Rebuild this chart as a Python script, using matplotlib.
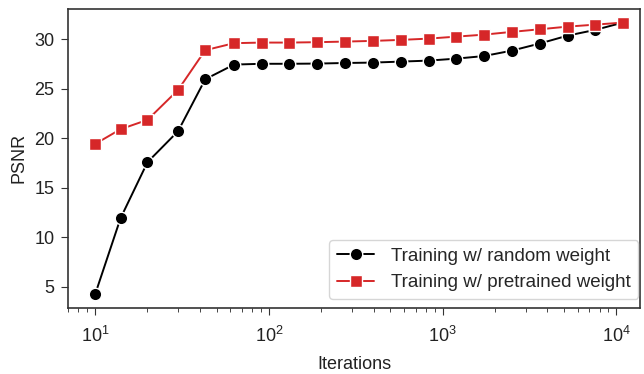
import numpy as np
import matplotlib.pyplot as plt
import seaborn as sns

iterations = [10, 14, 20, 30, 43, 63, 91, 130, 189, 273, 397, 573, 830, 1197,
              1729, 2506, 3614, 5236, 7557, 10914]
psnr_random = [4.27, 11.94, 17.59, 20.72, 25.96, 27.44, 27.52, 27.52, 27.54, 27.6,
               27.64, 27.74, 27.84, 28.04, 28.3, 28.85, 29.56, 30.36, 30.94, 31.68]
psnr_pretrained = [19.43, 20.92, 21.86, 24.88, 28.89, 29.6, 29.66, 29.66, 29.7, 29.76,
                   29.83, 29.93, 30.06, 30.26, 30.46, 30.74, 31.0, 31.27, 31.47, 31.68]
labels = ["Training w/ random weight", "Training w/ pretrained weight"]

sns.set_style("ticks")
plt.rcParams['font.family'] = ['Liberation Sans', 'DejaVu Sans']
plt.rcParams['axes.edgecolor'] = '#333333'
plt.rcParams['axes.linewidth'] = 1.2

fig = plt.figure(figsize=(6.44, 3.74), dpi=100)
ax = fig.add_axes([0.106, 0.177, 0.888, 0.799])

ax.plot(iterations, psnr_random, color='black', marker='o', markersize=9,
        markeredgecolor='white', markeredgewidth=1, linewidth=1.4, label=labels[0])
ax.plot(iterations, psnr_pretrained, color='#d62728', marker='s', markersize=8.5,
        markeredgecolor='white', markeredgewidth=1, linewidth=1.4, label=labels[1])

ax.set_xscale('log')
ax.set_xlim(7.0, 13700)
ax.set_xlabel("Iterations", fontsize=13, color='#222222', labelpad=7)
ax.set_ylabel("PSNR", fontsize=13, color='#222222', labelpad=5)
ax.tick_params(axis='both', labelsize=13, colors='#333333', labelcolor='#222222')
ax.tick_params(axis='y', pad=5)
ax.tick_params(axis='x', which='both', pad=8)
ax.tick_params(which='major', length=5)
ax.tick_params(which='minor', length=3)

ax.legend(loc='lower right', bbox_to_anchor=(0.997, 0.03), borderaxespad=0,
          fontsize=13.5, frameon=True, handletextpad=0.9)

fig.savefig("out.png", dpi=100)
